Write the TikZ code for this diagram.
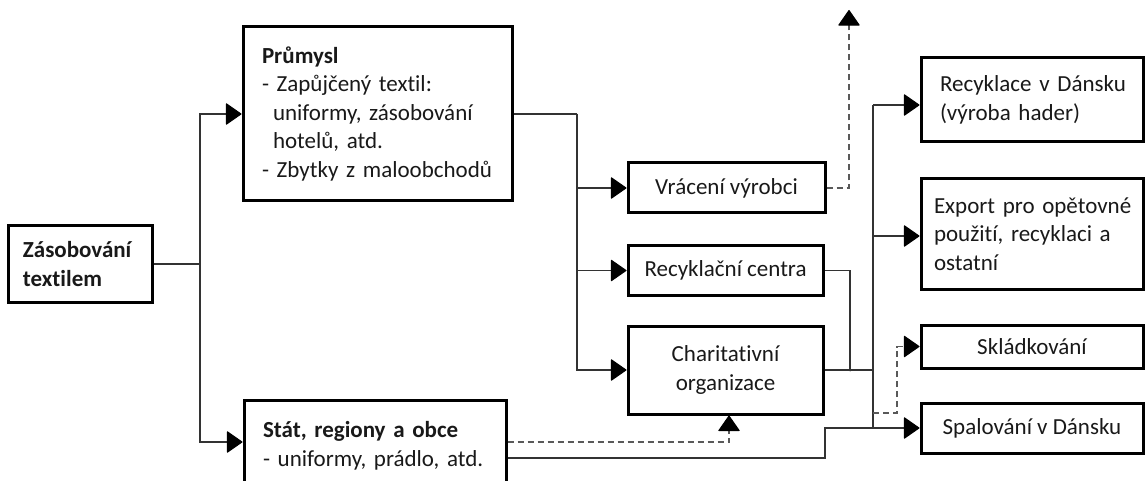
\documentclass[tikz,border=0pt]{standalone}
\usepackage{fontspec}
\setmainfont{Carlito}[RawFeature={-liga}]
\usetikzlibrary{arrows.meta}
\frenchspacing
\begin{document}
\begin{tikzpicture}[x=1pt,y=-1pt,
  every node/.style={font=\fontsize{23pt}{28.5pt}\selectfont, text=black!90},
  box/.style={draw=black, line width=3pt, inner sep=0pt},
  lbox/.style={box, align=left},
  cbox/.style={box, align=center},
  bigtip/.tip={Triangle[length=16pt,width=22pt,round,black]},
  conn/.style={draw=black!80, line width=1.1pt},
  dconn/.style={draw=black!65, line width=1.1pt, dash pattern=on 6pt off 4pt},
  arr/.style={conn, -{bigtip}},
  darr/.style={dconn, -{bigtip}},
  dot/.style={circle, fill=black!80, inner sep=0pt, minimum size=3pt},
]
\useasboundingbox (0,0) rectangle (1146,481);
\clip (0,0) rectangle (1146,481);

% sources
\node[lbox, text width=114pt, inner xsep=15pt, minimum height=76pt] (zas) at (80,264)
  {\textbf{Zásobování}\\\textbf{textilem}};
\node[lbox, text width=231pt, inner xsep=19pt, minimum height=174pt] (prum) at (377.5,114)
  {\textbf{Průmysl}\\\mbox{- Zapůjčený textil:}\\\mbox{\hspace*{11pt}uniformy, zásobování}\\\mbox{\hspace*{11pt}hotelů, atd.}\\\mbox{- Zbytky z maloobchodů}};
\node[lbox, text width=224pt, inner xsep=19pt, minimum height=92pt] (stat) at (375,446)
  {\mbox{\textbf{Stát, regiony a obce}}\\\mbox{- uniformy, prádlo, atd.}};

% collection
\node[cbox, minimum width=197pt, minimum height=50pt] (vrac) at (726.5,188) {Vrácení výrobci};
\node[cbox, minimum width=195pt, minimum height=49pt] (recc) at (725.5,270.5) {Recyklační centra};
\node[cbox, minimum width=195pt, minimum height=88pt] (char) at (725.5,370) {Charitativní\\organizace};

% destinations
\node[lbox, text width=184pt, inner xsep=19pt, minimum height=84pt] (recdk) at (1032,100)
  {\mbox{Recyklace v Dánsku}\\(výroba hader)};
\node[lbox, text width=196pt, inner xsep=13pt, minimum height=110pt] (exp) at (1032,234)
  {\mbox{Export pro opětovné}\\\mbox{použití, recyklaci a}\\ostatní};
\node[cbox, minimum width=222pt, minimum height=43pt] (skl) at (1032,346.5) {Skládkování};
\node[cbox, minimum width=222pt, minimum height=50pt] (spal) at (1032,428) {Spalování v Dánsku};

% junction points
\coordinate (s1) at (200,264);
\coordinate (s2) at (577,114);
\coordinate (up) at (849,10);
\coordinate (j2) at (850,370);
\coordinate (bt) at (873,105);
\coordinate (be) at (873,236);
\coordinate (bd) at (873,413);
\coordinate (bb) at (873,428);
\coordinate (k) at (825,428);

% supply to sources
\draw[conn] (zas.east) -- (s1);
\draw[arr] (s1) |- (prum.west);
\draw[arr] (s1) |- ([yshift=4pt]stat.west);

% industry to collection
\draw[conn] (prum.east) -- (s2);
\draw[arr] (s2) |- (vrac.west);
\draw[arr] (s2) |- (recc.west);
\draw[arr] (s2) |- (char.west);

% returns to producer
\draw[darr] (vrac.east) -| (up);

% collection to the bus
\draw[conn] (recc.east) -| (j2);
\draw[conn] (char.east) -- (j2) -- (be |- j2);
\node[dot] (jd) at (j2) {};
\draw[conn] (bt) -- (bb);
\draw[arr] (bt) -- (recdk.west |- bt);
\draw[arr] (be) -- (exp.west |- be);
\draw[arr] (bb) -- (spal.west);
\draw[darr] (bd) -- ++(24,0) |- (skl.west);

% public sector flows
\draw[darr] ([yshift=4pt]stat.east) -| ([xshift=3.5pt]char.south);
\draw[conn] ([yshift=-12pt]stat.east) -| (k) -- (bb);
\end{tikzpicture}
\end{document}
